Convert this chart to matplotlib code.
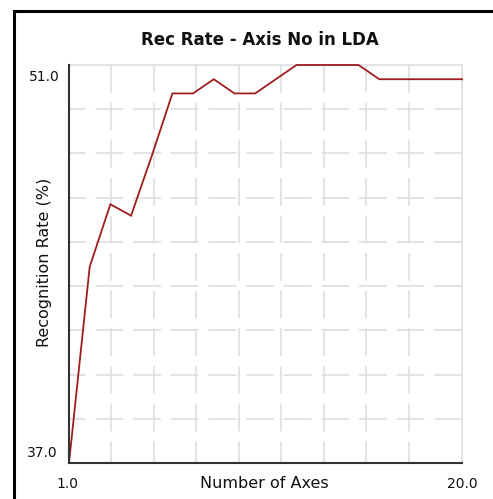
import matplotlib
matplotlib.use("Agg")
import matplotlib.pyplot as plt
from matplotlib.patches import Rectangle
import numpy as np

plt.rcParams['font.family'] = ['DejaVu Sans']
plt.rcParams['lines.scale_dashes'] = False

# ---- data ----
axes_no = list(range(1, 21))
rec_rate = [37.0, 43.9, 46.1, 45.7, 47.8, 50.0, 50.0, 50.5, 50.0, 50.0,
            50.5, 51.0, 51.0, 51.0, 51.0, 50.5, 50.5, 50.5, 50.5, 50.5]
title = "Rec Rate - Axis No in LDA"
xlabel = "Number of Axes"
ylabel = "Recognition Rate (%)"
x_range = (1.0, 20.0)
y_range = (37.0, 51.0)
x_tick_labels = ["1.0", "20.0"]
y_tick_labels = ["37.0", "51.0"]

W, H = 493, 499
fig = plt.figure(figsize=(W / 100, H / 100), dpi=100)
fig.patch.set_facecolor('white')

left, right, top, bottom = 69, 462, 65, 463
ax = fig.add_axes([left / W, 1 - bottom / H, (right - left) / W, (bottom - top) / H])
ax.set_xlim(*x_range)
ax.set_ylim(*y_range)
ax.set_xticks([])
ax.set_yticks([])

grid_color = '#dedede'
grid_lw = 1.2
dash = (0, (19.9, 7.2))

# horizontal grid lines (9 equal divisions), drawn right to left
ny = 9
for k in range(1, ny):
    yv = y_range[0] + k * (y_range[1] - y_range[0]) / ny
    ax.plot([1, 0], [yv, yv], transform=ax.get_yaxis_transform(),
            color=grid_color, lw=grid_lw, linestyle=dash, zorder=1, clip_on=False)
# vertical grid lines, drawn top to bottom
x_step = 2.052
xv = x_range[0] + x_step
while xv < x_range[1] - 1.0:
    ax.plot([xv, xv], [1, 0], transform=ax.get_xaxis_transform(),
            color=grid_color, lw=grid_lw, linestyle=dash, zorder=1, clip_on=False)
    xv += x_step

for s in ['top', 'right']:
    ax.spines[s].set_color(grid_color)
    ax.spines[s].set_linewidth(1.2)
for s in ['left', 'bottom']:
    ax.spines[s].set_color('#333333')
    ax.spines[s].set_linewidth(1.5)
    ax.spines[s].set_zorder(4)

ax.plot(axes_no, rec_rate, color='#9e1e1e', lw=1.3, zorder=3, clip_on=False,
        solid_joinstyle='miter')

# tick labels (end values only)
ax.annotate(y_tick_labels[1], xy=(0, y_range[1]), xycoords=('axes fraction', 'data'),
            xytext=(-7, -8.6), textcoords='offset points', ha='right', va='center',
            fontsize=10, color='#111111')
ax.annotate(y_tick_labels[0], xy=(0, y_range[0]), xycoords=('axes fraction', 'data'),
            xytext=(-8, 7.2), textcoords='offset points', ha='right', va='center',
            fontsize=10, color='#111111')
ax.annotate(x_tick_labels[0], xy=(x_range[0], 0), xycoords=('data', 'axes fraction'),
            xytext=(-1.4, -15), textcoords='offset points', ha='center', va='center',
            fontsize=10, color='#111111')
ax.annotate(x_tick_labels[1], xy=(x_range[1], 0), xycoords=('data', 'axes fraction'),
            xytext=(0, -15), textcoords='offset points', ha='center', va='center',
            fontsize=10, color='#111111')

fig.text(260 / W, 1 - 40 / H, title, ha='center', va='center',
         fontsize=12, fontweight='bold', color='#111111')
fig.text(264 / W, 1 - 484 / H, xlabel, ha='center', va='center',
         fontsize=11.5, color='#111111')
fig.text(45 / W, 1 - 262 / H, ylabel, ha='center', va='center',
         rotation=90, fontsize=11.5, color='#111111')

# outer frame (only top and left visible)
fig.add_artist(Rectangle((13.5 / W, -0.1), 1.2, 1 - 11 / H + 0.1,
                         transform=fig.transFigure, fill=False,
                         edgecolor='black', linewidth=2.2))

fig.savefig('out.png', dpi=100)
